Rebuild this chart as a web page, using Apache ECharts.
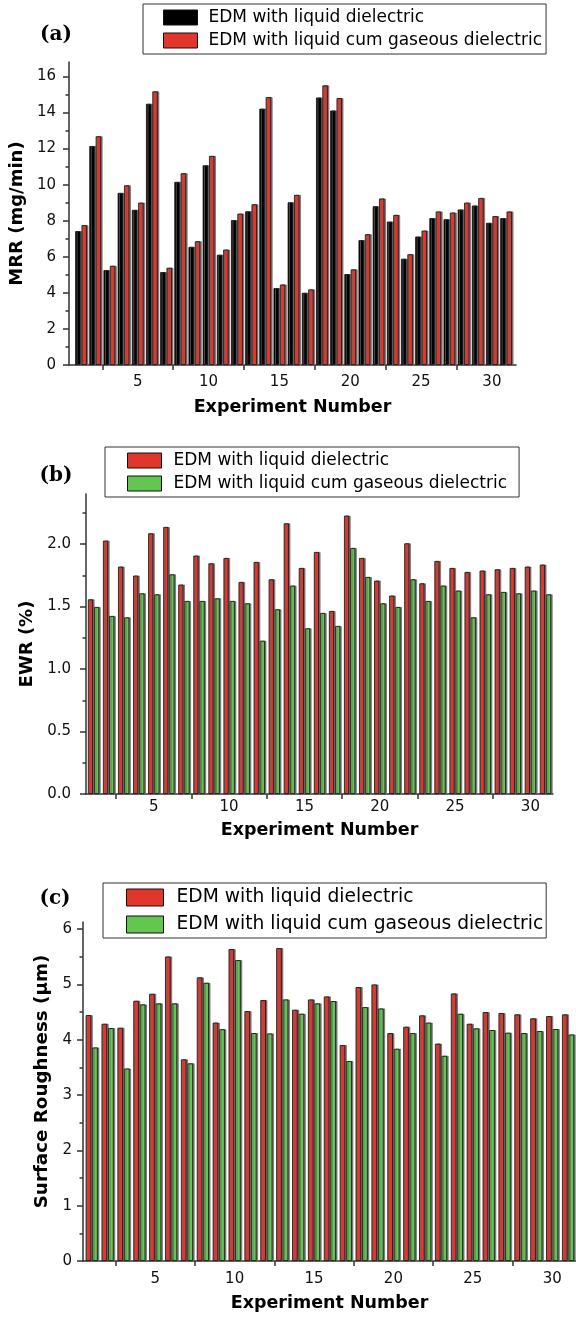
<!DOCTYPE html>
<html><head><meta charset="utf-8">
<script src="https://cdn.jsdelivr.net/npm/echarts@6/dist/echarts.min.js"></script>
<style>html,body{margin:0;padding:0;background:#fff}#c{width:576px;height:1317px}</style>
</head><body><div id="c"></div>
<script>
const categories = [1,2,3,4,5,6,7,8,9,10,11,12,13,14,15,16,17,18,19,20,21,22,23,24,25,26,27,28,29,30,31];
const seriesNames = ['EDM with liquid dielectric', 'EDM with liquid cum gaseous dielectric'];
// (a) MRR (mg/min)
const mrrLiquid = [7.42,12.14,5.26,9.54,8.60,14.48,5.15,10.15,6.55,11.07,6.11,8.03,8.52,14.21,4.26,9.02,4.00,14.83,14.11,5.04,6.92,8.80,7.95,5.89,7.12,8.14,8.08,8.62,8.84,7.88,8.14];
const mrrGas    = [7.75,12.68,5.50,9.96,9.00,15.17,5.39,10.63,6.86,11.59,6.40,8.39,8.91,14.85,4.46,9.43,4.19,15.50,14.80,5.30,7.25,9.23,8.32,6.14,7.45,8.51,8.45,9.00,9.26,8.25,8.51];
// (b) EWR (%)
const ewrLiquid = [1.557,2.027,1.819,1.747,2.085,2.136,1.675,1.907,1.845,1.888,1.696,1.856,1.717,2.165,1.808,1.936,1.464,2.227,1.888,1.707,1.587,2.005,1.685,1.864,1.808,1.776,1.787,1.797,1.808,1.819,1.835];
const ewrGas    = [1.496,1.424,1.413,1.605,1.597,1.757,1.544,1.544,1.565,1.544,1.525,1.226,1.477,1.667,1.325,1.448,1.344,1.968,1.736,1.525,1.496,1.717,1.544,1.667,1.627,1.413,1.597,1.616,1.605,1.627,1.597];
// (c) Surface roughness (um)
const raLiquid = [4.446,4.289,4.217,4.705,4.831,5.506,3.645,5.127,4.31,5.64,4.518,4.717,5.657,4.542,4.729,4.783,3.904,4.952,5.000,4.12,4.235,4.44,3.93,4.837,4.289,4.50,4.482,4.458,4.386,4.428,4.458];
const raGas    = [3.861,4.211,3.48,4.639,4.657,4.657,3.573,5.030,4.19,5.44,4.12,4.114,4.729,4.470,4.657,4.699,3.615,4.590,4.566,3.837,4.12,4.31,3.71,4.470,4.205,4.175,4.127,4.12,4.157,4.193,4.096];

const xLabelValues = [5,10,15,20,25,30];
const xTickValues = [2.5,7.5,12.5,17.5,22.5,27.5];
const mrrMajor = [0,2,4,6,8,10,12,14,16];
const mrrMinor = [1,3,5,7,9,11,13,15];
const ewrMajor = [0,0.5,1.0,1.5,2.0];
const ewrMinor = [0.25,0.75,1.25,1.75,2.25];
const raMajor = [0,1,2,3,4,5,6];
const raMinor = [0.5,1.5,2.5,3.5,4.5,5.5];
const panelLetters = ['(a)','(b)','(c)'];
const yNames = ['MRR (mg/min)','EWR (%)','Surface Roughness (\u03bcm)'];
const xName = 'Experiment Number';

const RED = '#E2352B', GREEN = '#63C64E', BLACK = '#000000';
const FONT = 'DejaVu Sans';
const AXC = '#333333';

const panels = [
  {grid:{left:68, top:62, width:448, height:303}, xmin:0.15, xmax:31.7, ymax:16.8, major:mrrMajor, minor:mrrMinor, fmt:v=>String(v),
   colors:[BLACK, RED], data:[mrrLiquid, mrrGas], barW:'38%', barGap:'18%',
   legend:{left:143, top:4, fs:17, iw:34, ih:15, gap:6, pad:[5,4,5,20], tpad:6},
   yNameGap:39, yNameFs:18, yNamePad:[0,0,0,0], yLabMargin:13, xLabMargin:10, xNameGap:33, letter:[56,35]},
  {grid:{left:86, top:494, width:467, height:300}, xmin:0.5, xmax:31.5, ymax:2.4, major:ewrMajor, minor:ewrMinor, fmt:v=>v.toFixed(1),
   colors:[RED, GREEN], data:[ewrLiquid, ewrGas], barW:'34%', barGap:'20%',
   legend:{left:105, top:447, fs:17, iw:34, ih:15, gap:6, pad:[5,12,5,22], tpad:7},
   yNameGap:48, yNameFs:18, yNamePad:[0,0,0,0], yLabMargin:15, xLabMargin:6, xNameGap:27, letter:[56,476]},
  {grid:{left:83, top:922, width:493, height:339}, xmin:0.45, xmax:31.5, ymax:6.13, major:raMajor, minor:raMinor, fmt:v=>String(v),
   colors:[RED, GREEN], data:[raLiquid, raGas], barW:'35%', barGap:'18%',
   legend:{left:103, top:883, fs:18.7, iw:37, ih:17, gap:8, pad:[5,3,4,23], tpad:8},
   yNameGap:32, yNameFs:18.3, yNamePad:[0,0,0,20], yLabMargin:11, xLabMargin:11, xNameGap:33, letter:[55,899]}
];

const option = {animation:false, backgroundColor:'#fff', grid:[], xAxis:[], yAxis:[], series:[], legend:[], graphic:[]};
panels.forEach((p, k) => {
  option.grid.push(Object.assign({containLabel:false}, p.grid));
  option.xAxis.push({
    type:'value', gridIndex:k, min:p.xmin, max:p.xmax,
    name:xName, nameLocation:'middle', nameGap:p.xNameGap,
    nameTextStyle:{fontFamily:FONT, fontWeight:'bold', fontSize:17.5, color:'#000'},
    axisLine:{show:true, onZero:false, lineStyle:{color:AXC, width:1.5}},
    axisTick:{show:true, inside:false, length:5, customValues:xTickValues, lineStyle:{color:AXC, width:1.5}},
    axisLabel:{show:true, margin:p.xLabMargin, customValues:xLabelValues, fontFamily:FONT, fontSize:15, color:'#111'},
    splitLine:{show:false}
  });
  option.yAxis.push({
    type:'value', gridIndex:k, min:0, max:p.ymax, position:'left',
    name:yNames[k], nameLocation:'middle', nameGap:p.yNameGap, nameRotate:90,
    nameTextStyle:{fontFamily:FONT, fontWeight:'bold', fontSize:p.yNameFs, color:'#000', padding:p.yNamePad},
    axisLine:{show:true, lineStyle:{color:AXC, width:1.5}},
    axisTick:{show:true, inside:false, length:6, customValues:p.major, lineStyle:{color:AXC, width:1.5}},
    axisLabel:{show:true, margin:p.yLabMargin, customValues:p.major, formatter:p.fmt, fontFamily:FONT, fontSize:15, color:'#111'},
    splitLine:{show:false}
  });
  option.yAxis.push({
    type:'value', gridIndex:k, min:0, max:p.ymax, position:'left', offset:0,
    axisLine:{show:false},
    axisTick:{show:true, inside:false, length:3.5, customValues:p.minor, lineStyle:{color:AXC, width:1.5}},
    axisLabel:{show:false}, splitLine:{show:false}
  });
  seriesNames.forEach((nm, j) => {
    option.series.push({
      type:'bar', name:nm, xAxisIndex:k, yAxisIndex:2*k,
      barWidth:p.barW, barGap:p.barGap,
      itemStyle:{color:p.colors[j], borderColor:'#111', borderWidth:0.8,
                 shadowColor:'rgba(105,105,105,0.9)', shadowOffsetX:1.5, shadowOffsetY:0, shadowBlur:0},
      data:categories.map((c, i) => [c, p.data[j][i]])
    });
  });
  const L = p.legend;
  option.legend.push({
    show:true, orient:'vertical', left:L.left, top:L.top,
    itemWidth:L.iw, itemHeight:L.ih, itemGap:L.gap, padding:L.pad,
    borderColor:'#333', borderWidth:1, borderRadius:0, icon:'rect', selectedMode:false,
    textStyle:{fontFamily:FONT, fontSize:L.fs, color:'#000', lineHeight:L.fs, padding:[0,0,0,L.tpad]},
    data:seriesNames.map((nm, j) => ({name:nm, icon:'rect', itemStyle:{color:p.colors[j], borderColor:'#111', borderWidth:1}}))
  });
  option.graphic.push({
    type:'text', x:p.letter[0], y:p.letter[1],
    style:{text:panelLetters[k], font:'bold 20px "DejaVu Serif"', fill:'#000', align:'center', verticalAlign:'middle'}
  });
});

const chart = echarts.init(document.getElementById('c'), null, {renderer:'canvas'});
chart.setOption(option);
</script>
</body></html>
